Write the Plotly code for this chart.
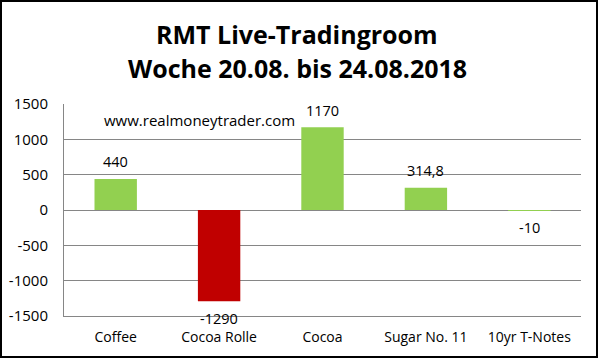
import plotly.graph_objects as go

categories = ["Coffee", "Cocoa Rolle", "Cocoa", "Sugar No. 11", "10yr T-Notes"]
values = [440, -1290, 1170, 314.8, -10]
value_labels = ["440", "-1290", "1170", "314,8", "-10"]
colors = ["#92D050", "#C00000", "#92D050", "#92D050", "#92D050"]
y_ticks = [-1500, -1000, -500, 0, 500, 1000, 1500]
y_tick_text = ["-1500", "-1000", "-500", "0", "500", "1000", "1500"]
title_lines = ["RMT Live-Tradingroom", "Woche 20.08. bis 24.08.2018"]
watermark = "www.realmoneytrader.com"

W, H = 598, 358
ml, mr, mt, mb = 64, 17, 104, 42
pw, ph = W - ml - mr, H - mt - mb
FONT = "Open Sans"

fig = go.Figure(go.Bar(x=categories, y=values, marker_color=colors,
                       marker_line_width=0, width=0.41))

annotations = []
for c, v, t in zip(categories, values, value_labels):
    annotations.append(dict(x=c, y=v, text=t, showarrow=False, xanchor="center",
                            yanchor="middle", yshift=17 if v >= 0 else -17,
                            font=dict(family=FONT, size=14.5, color="#000000")))
annotations.append(dict(xref="paper", yref="paper", x=(199 - ml) / pw, y=(316 - 120) / ph,
                        text=watermark, showarrow=False,
                        xanchor="center", yanchor="middle",
                        font=dict(family=FONT, size=15, color="#000000")))
for line, ypx in zip(title_lines, [34, 68]):
    annotations.append(dict(xref="paper", yref="paper", x=(297 - ml) / pw, y=(316 - ypx) / ph,
                            text="<b>" + line + "</b>",
                            showarrow=False, xanchor="center", yanchor="middle",
                            font=dict(family=FONT, size=25, color="#000000")))

fig.update_layout(
    width=W, height=H,
    margin=dict(l=ml, r=mr, t=mt, b=mb, pad=0, autoexpand=False),
    paper_bgcolor="white", plot_bgcolor="white",
    showlegend=False,
    annotations=annotations,
    shapes=[dict(type="rect", xref="paper", yref="paper",
                 x0=(-ml + 1) / pw, x1=1 + (mr - 1) / pw,
                 y0=(-mb + 1) / ph, y1=1 + (mt - 1) / ph,
                 line=dict(color="black", width=2), fillcolor="rgba(0,0,0,0)")],
    xaxis=dict(showgrid=False, showline=True, linecolor="#868686", linewidth=1,
               ticks="", ticklabelstandoff=8, automargin=False,
               tickfont=dict(family=FONT, size=14, color="#000000")),
    yaxis=dict(range=[-1500, 1500], tickvals=y_ticks, ticktext=y_tick_text, showgrid=True,
               gridcolor="#868686", gridwidth=1, zeroline=True, zerolinecolor="#868686",
               zerolinewidth=1, showline=True, linecolor="#868686", linewidth=1,
               ticks="", ticklabelstandoff=12, automargin=False,
               tickfont=dict(family=FONT, size=15, color="#000000")),
)

fig.write_html("out.html")
